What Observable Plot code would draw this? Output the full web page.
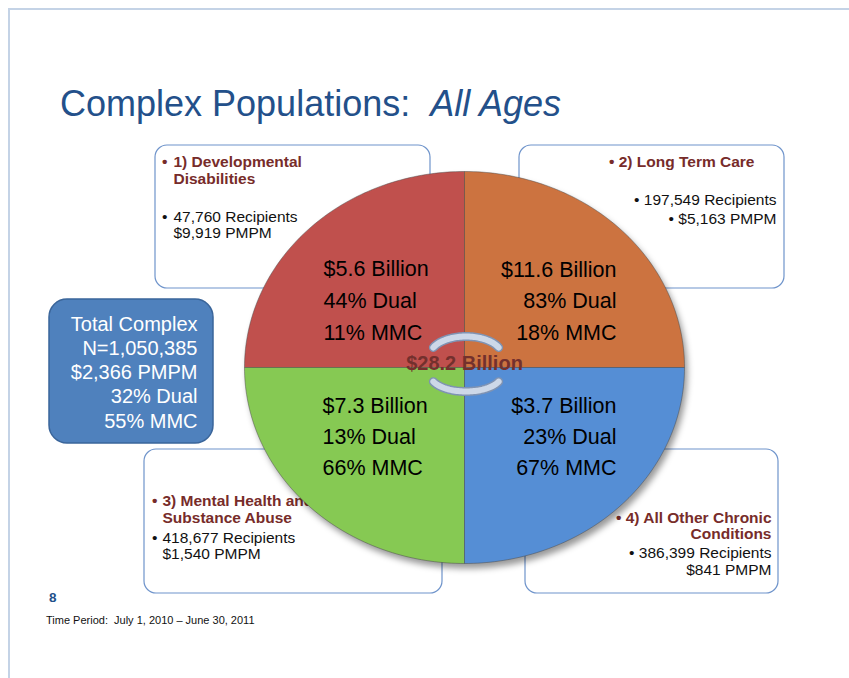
<!DOCTYPE html>
<html>
<head>
<meta charset="utf-8">
<script src="https://cdn.jsdelivr.net/npm/d3@7"></script>
<script src="https://cdn.jsdelivr.net/npm/@observablehq/plot@0.6"></script>
<style>
  body { margin: 0; background: #fff; font-family: "Liberation Sans", Arial, sans-serif; }
  #page { position: relative; width: 849px; height: 678px; overflow: hidden; }
  #frame { position: absolute; left: 8px; top: 8px; right: -4px; bottom: -4px;
           border-left: 2px solid #c4d3e6; border-top: 2px solid #c4d3e6; }
  #title { position: absolute; left: 60px; top: 85.5px; font-size: 36px; line-height: 1;
           color: #23508a; white-space: pre; }
  #chart { position: absolute; left: 0; top: 130px; }
  #pagenum { position: absolute; left: 49px; top: 590.5px; font-size: 13.5px; line-height: 1;
             font-weight: bold; color: #23508a; }
  #caption { position: absolute; left: 46px; top: 614.7px; font-size: 11px; line-height: 1;
             color: #111; white-space: pre; }
</style>
</head>
<body>
<div id="page">
  <div id="frame"></div>
  <div id="title">Complex Populations:  <i>All Ages</i></div>
  <div id="chart"></div>
  <div id="pagenum">8</div>
  <div id="caption">Time Period:  July 1, 2010 – June 30, 2011</div>
</div>
<script>
// ---------------- data ----------------
const categories = [
  "1) Developmental\nDisabilities",
  "2) Long Term Care",
  "3) Mental Health and\nSubstance Abuse",
  "4) All Other Chronic\nConditions"
];
const spendingBillions = [5.6, 11.6, 7.3, 3.7];
const dualPct = [44, 83, 13, 23];
const mmcPct = [11, 18, 66, 67];
const recipients = [47760, 197549, 418677, 386399];
const pmpm = [9919, 5163, 1540, 841];
const sliceColors = ["#c0504d", "#cc7340", "#86c953", "#558ed5"];

const totalLabel = "Total Complex";
const totalN = 1050385;
const totalPmpm = 2366;
const totalDual = 32;
const totalMmc = 55;
const totalBillions = 28.2;

// ---------------- layout (page pixel coordinates) ----------------
const W = 849, TOP = 130, BOTTOM = 600;
const cx = 464, cy = 367, rx = 220, ry = 196;
const quadStart = [Math.PI, 1.5 * Math.PI, 0.5 * Math.PI, 0]; // TL, TR, BL, BR
const quadText = [
  {x: 323, anchor: "start", y0: 275, dy: 32},
  {x: 616, anchor: "end",   y0: 276, dy: 31.5},
  {x: 322, anchor: "start", y0: 412, dy: 31},
  {x: 616, anchor: "end",   y0: 412, dy: 31}
];
const boxes = [
  {x1: 155, x2: 430, y1: 145, y2: 288},
  {x1: 519, x2: 784, y1: 145, y2: 288},
  {x1: 144, x2: 442, y1: 449, y2: 593},
  {x1: 525, x2: 778, y1: 449, y2: 593}
];
const totalBox = {x1: 49, x2: 213, y1: 299, y2: 443};
const boxText = [
  {anchor: "start", bx: 161.5, tx: 173, hy: [166, 183], by: [221, 237]},
  {anchor: "end", tx: 754, bodyX: 776, hy: [166], by: [204, 223], bulletEach: true},
  {anchor: "start", bx: 151.5, tx: 162, hy: [505, 522], by: [542, 558]},
  {anchor: "end", tx: 771, bodyX: 771, hy: [522, 538], by: [557, 574]}
];

const fmt = d3.format(",");

// ---------------- derived geometry ----------------
const quadPts = categories.flatMap((c, i) => {
  const pts = [{cat: i, x: cx, y: cy}];
  const n = 80;
  for (let k = 0; k <= n; k++) {
    const t = quadStart[i] + (k / n) * Math.PI / 2;
    pts.push({cat: i, x: cx + rx * Math.cos(t), y: cy + ry * Math.sin(t)});
  }
  pts.push({cat: i, x: cx, y: cy});
  return pts.map(p => ({...p, color: sliceColors[i]}));
});
const shadowPts = d3.range(0, 361).map(a => {
  const t = a * Math.PI / 180;
  return {x: cx + rx * Math.cos(t), y: cy + ry * Math.sin(t)};
});
const arcPts = ["upper", "lower"].flatMap(arc => d3.range(-65, 66, 2.5).map(a => {
  const t = a * Math.PI / 180;
  return arc === "upper"
    ? {arc, x: cx + 1.5 + 36 * Math.sin(t), y: 355 - 19 * Math.cos(t)}
    : {arc, x: cx + 1.5 + 36 * Math.sin(t), y: 374 + 17 * Math.cos(t)};
}));

// ---------------- text rows ----------------
const headerRows = [], bodyRows = [];
categories.forEach((c, i) => {
  const L = boxText[i];
  const lines = c.split("\n");
  const body = [`${fmt(recipients[i])} Recipients`, `$${fmt(pmpm[i])} PMPM`];
  if (L.anchor === "start") {
    headerRows.push({x: L.bx, y: L.hy[0], t: "•", a: "start"});
    lines.forEach((s, k) => headerRows.push({x: L.tx, y: L.hy[k], t: s, a: "start"}));
    bodyRows.push({x: L.bx, y: L.by[0], t: "•", a: "start"});
    body.forEach((s, k) => bodyRows.push({x: L.tx, y: L.by[k], t: s, a: "start"}));
  } else {
    lines.forEach((s, k) => headerRows.push({x: L.tx, y: L.hy[k], t: (k === 0 ? "• " : "") + s, a: "end"}));
    body.forEach((s, k) => bodyRows.push({x: L.bodyX, y: L.by[k],
      t: ((k === 0 || L.bulletEach) ? "• " : "") + s, a: "end"}));
  }
});
const pieRows = categories.flatMap((c, i) => {
  const q = quadText[i];
  return [`$${spendingBillions[i]} Billion`, `${dualPct[i]}% Dual`, `${mmcPct[i]}% MMC`]
    .map((t, k) => ({x: q.x, y: q.y0 + k * q.dy, t, a: q.anchor}));
});
const totalLines = [totalLabel, `N=${fmt(totalN)}`, `$${fmt(totalPmpm)} PMPM`, `${totalDual}% Dual`, `${totalMmc}% MMC`];
const totalRows = totalLines.map((t, k) => ({x: 197, y: 330 + k * 24.3, t}));

const txt = (rows, opts) => Plot.text(rows, {
  x: "x", y: "y", text: "t", lineAnchor: "bottom", ...opts
});

const chart = Plot.plot({
  width: W,
  height: BOTTOM - TOP,
  margin: 0,
  style: {fontFamily: "'Liberation Sans', Arial, sans-serif", background: "transparent"},
  x: {type: "linear", domain: [0, W], range: [0, W], axis: null},
  y: {type: "linear", domain: [TOP, BOTTOM], range: [0, BOTTOM - TOP], axis: null},
  color: {type: "identity"},
  marks: [
    Plot.rect(boxes, {x1: "x1", x2: "x2", y1: "y1", y2: "y2", rx: 12, fill: "white", stroke: "#6f94cb", strokeWidth: 1.2}),
    Plot.rect([totalBox], {x1: "x1", x2: "x2", y1: "y1", y2: "y2", rx: 18, fill: "#4f81bd", stroke: "#3a659a", strokeWidth: 1.5}),
    txt(headerRows.filter(r => r.a === "start"), {textAnchor: "start", fontSize: 15.5, fontWeight: "bold", fill: "#772c2a"}),
    txt(headerRows.filter(r => r.a === "end"), {textAnchor: "end", fontSize: 15.5, fontWeight: "bold", fill: "#772c2a"}),
    txt(bodyRows.filter(r => r.a === "start"), {textAnchor: "start", fontSize: 15.5, fill: "#111"}),
    txt(bodyRows.filter(r => r.a === "end"), {textAnchor: "end", fontSize: 15.5, fill: "#111"}),
    txt(totalRows, {textAnchor: "end", fontSize: 20, fill: "white"}),
    Plot.line(shadowPts, {x: "x", y: "y", fill: "#000", fillOpacity: 0.4, stroke: "none", dx: 3, dy: 5}),
    Plot.line(quadPts, {x: "x", y: "y", z: "cat", fill: "color", stroke: "#4a4a4a", strokeOpacity: 0.6, strokeWidth: 0.8}),
    txt(pieRows.filter(r => r.a === "start"), {textAnchor: "start", fontSize: 21.5, fill: "#000"}),
    txt(pieRows.filter(r => r.a === "end"), {textAnchor: "end", fontSize: 21.5, fill: "#000"}),
    Plot.line(arcPts, {x: "x", y: "y", z: "arc", stroke: "#7f93b3", strokeWidth: 9, strokeLinecap: "round"}),
    Plot.line(arcPts, {x: "x", y: "y", z: "arc", stroke: "#cdd8e8", strokeWidth: 6, strokeLinecap: "round"}),
    txt([{x: cx, y: 369, t: `$${totalBillions} Billion`}], {textAnchor: "middle", fontSize: 20, fontWeight: "bold", fill: "#74302d"})
  ]
});

const svg = d3.select(chart);
const defs = svg.insert("defs", ":first-child");
defs.append("filter").attr("id", "pieBlur").attr("x", "-10%").attr("y", "-10%").attr("width", "120%").attr("height", "120%")
  .append("feGaussianBlur").attr("stdDeviation", 3);
svg.select('g[aria-label="line"]').attr("filter", "url(#pieBlur)");

document.getElementById("chart").appendChild(chart);
</script>
</body>
</html>
